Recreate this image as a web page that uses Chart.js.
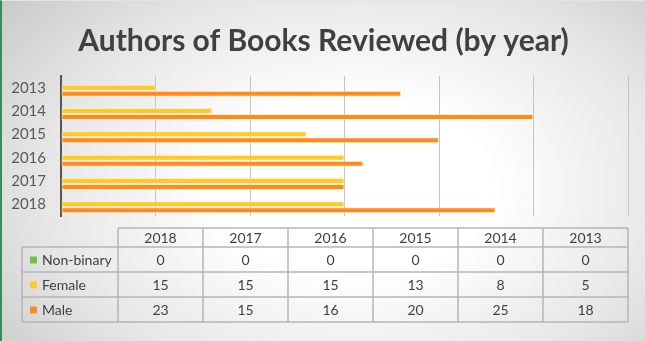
<!DOCTYPE html>
<html>
<head>
<meta charset="utf-8">
<script src="https://cdn.jsdelivr.net/npm/chart.js@4"></script>
<style>
  html, body { margin: 0; padding: 0; }
  #wrap {
    position: relative;
    width: 643px;
    height: 340px;
    border-left: 2px solid #3b8a5c;
    border-top: 1px solid #e4e4e4;
    background: radial-gradient(ellipse 70% 85% at 55% 55%, #ffffff 0%, #ffffff 30%, #e6e6e6 70%, #cbcbcb 100%);
  }
</style>
</head>
<body>
<div id="wrap"><canvas id="chart"></canvas></div>
<script>
'use strict';

// categories as drawn top to bottom on the bar chart
const years = ['2013', '2014', '2015', '2016', '2017', '2018'];
const nonBinary = [0, 0, 0, 0, 0, 0];
const female = [5, 8, 13, 15, 15, 15];
const male = [18, 25, 20, 16, 15, 23];
const xMax = 30;
const xStep = 5;

const COLORS = { nonBinary: '#6fbf4d', female: '#ffc926', male: '#ff8a22' };
const TEXT = '#404040';
const FONT = "Lato, 'Open Sans', sans-serif";

/* data table below the plot, columns in reverse year order like the original */
const dataTable = {
    id: 'dataTable',
    afterDraw(chart) {
        const ctx = chart.ctx;
        const right = chart.chartArea.right;
        const labelLeft = 20, colLeft = 116;
        const rowY = [227, 246, 271, 296, 321];
        const colW = (right - colLeft) / years.length;
        const cols = years.slice().reverse();
        const rows = chart.data.datasets.map(ds => ({
            label: ds.label,
            color: ds.backgroundColor,
            values: ds.data.slice().reverse(),
        }));

        ctx.save();
        ctx.strokeStyle = '#b5b5b5';
        ctx.lineWidth = 1.5;
        ctx.beginPath();
        ctx.moveTo(colLeft, rowY[0]); ctx.lineTo(right, rowY[0]);
        for (let r = 1; r < rowY.length; r++) {
            ctx.moveTo(labelLeft, rowY[r]); ctx.lineTo(right, rowY[r]);
        }
        ctx.moveTo(labelLeft, rowY[1]); ctx.lineTo(labelLeft, rowY[4]);
        for (let c = 0; c <= cols.length; c++) {
            const x = colLeft + c * colW;
            ctx.moveTo(x, rowY[0]); ctx.lineTo(x, rowY[4]);
        }
        ctx.stroke();

        ctx.fillStyle = TEXT;
        ctx.font = '14px ' + FONT;
        ctx.textAlign = 'center';
        ctx.textBaseline = 'middle';
        cols.forEach((y, c) => {
            ctx.fillText(y, colLeft + (c + 0.5) * colW, (rowY[0] + rowY[1]) / 2 + 1);
        });
        rows.forEach((row, r) => {
            const cy = (rowY[r + 1] + rowY[r + 2]) / 2 + 1;
            ctx.fillStyle = row.color;
            ctx.fillRect(labelLeft + 8, cy - 4, 7, 7);
            ctx.fillStyle = TEXT;
            ctx.textAlign = 'left';
            ctx.fillText(row.label, labelLeft + 20, cy);
            ctx.textAlign = 'center';
            row.values.forEach((v, c) => {
                ctx.fillText(String(v), colLeft + (c + 0.5) * colW, cy);
            });
        });
        ctx.restore();
    },
};

const barStyle = (color) => ({
    backgroundColor: color,
    borderColor: 'rgba(255, 236, 190, 0.7)',
    borderWidth: 1,
    borderSkipped: false,
});

new Chart(document.getElementById('chart'), {
    type: 'bar',
    data: {
        labels: years,
        datasets: [
            { label: 'Non-binary', data: nonBinary, ...barStyle(COLORS.nonBinary) },
            { label: 'Female', data: female, ...barStyle(COLORS.female) },
            { label: 'Male', data: male, ...barStyle(COLORS.male) },
        ],
    },
    options: {
        indexAxis: 'y',
        responsive: true,
        maintainAspectRatio: false,
        animation: false,
        categoryPercentage: 0.77,
        barPercentage: 1,
        layout: { padding: { left: 0, right: 0, top: 0, bottom: 125 } },
        plugins: {
            legend: { display: false },
            tooltip: { enabled: false },
            title: {
                display: true,
                text: 'Authors of Books Reviewed (by year)',
                color: TEXT,
                font: { family: FONT, size: 30, weight: 'bold' },
                padding: { top: 22, bottom: 17 },
            },
        },
        scales: {
            x: {
                min: 0,
                max: xMax,
                ticks: { display: false, stepSize: xStep },
                grid: { color: '#c4c4c4', lineWidth: 1, drawTicks: false },
                border: { display: false },
            },
            y: {
                grid: { display: false, drawTicks: false },
                border: { display: true, color: '#555555', width: 2 },
                ticks: { color: '#595959', font: { family: FONT, size: 15 }, padding: 15 },
                afterFit(scale) { scale.width = 59; },
            },
            // empty right-hand spacer so the plot stops short of the edge
            yRight: {
                type: 'category',
                position: 'right',
                grid: { display: false, drawTicks: false },
                border: { display: false },
                ticks: { display: false },
                afterFit(scale) { scale.width = 17; },
            },
        },
    },
    plugins: [dataTable],
});
</script>
</body>
</html>
